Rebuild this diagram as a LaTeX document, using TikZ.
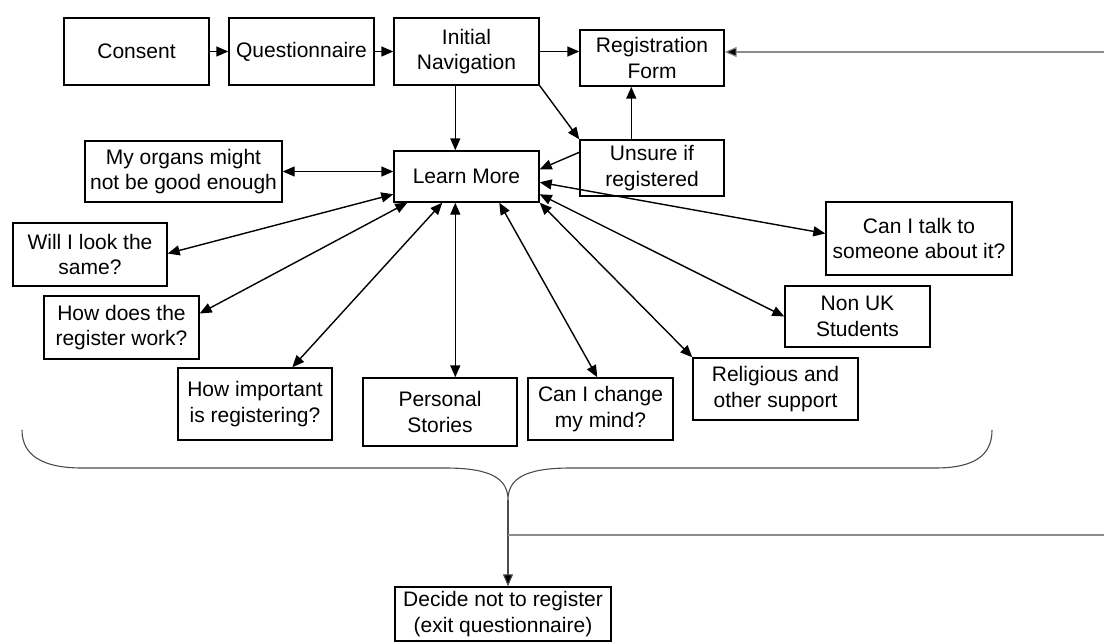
\documentclass[tikz,border=0pt]{standalone}
\usepackage{fontspec}
\setmainfont{Liberation Sans}
\usetikzlibrary{arrows.meta,calc}
\begin{document}
\begin{tikzpicture}[x=1pt,y=-1pt,
  box/.style={draw=black,line width=1.4pt,rectangle,inner sep=0pt,align=center,
    font=\fontsize{21}{25.5}\selectfont},
  link/.style={line width=1.4pt,-{Triangle[length=12pt,width=10pt]}},
  blink/.style={line width=1.4pt,{Triangle[length=12pt,width=10pt]}-{Triangle[length=12pt,width=10pt]}},
  grayline/.style={draw=black!45,line width=1.1pt},
  bracestyle/.style={draw=black!70,line width=1.1pt},
  thinlink/.style={draw=black!70,line width=1.1pt,-{Triangle[length=12pt,width=10pt,fill=black]}}]
\useasboundingbox (0,0) rectangle (1104,642);

% top row
\node[box,minimum width=145pt,minimum height=67pt] (consent) at (136.5,51.5) {Consent};
\node[box,minimum width=145pt,minimum height=67pt] (quest) at (301.5,51.5) {Questionnaire};
\node[box,minimum width=145pt,minimum height=67pt] (initnav) at (466.5,51.5) {Initial\\Navigation};
\node[box,minimum width=144pt,minimum height=56pt] (regform) at (652,58) {Registration\\Form};
\node[box,minimum width=144pt,minimum height=56pt] (unsure) at (652,168) {Unsure if\\registered};
\node[box,minimum width=145pt,minimum height=51pt] (learn) at (466.5,176.5) {Learn More};

% topics
\node[box,minimum width=197pt,minimum height=61pt] (organs) at (183.5,171.5) {My organs might\\not be good enough};
\node[box,minimum width=154pt,minimum height=63pt] (willi) at (90,254.5) {Will I look the\\same?};
\node[box,minimum width=155pt,minimum height=63pt] (howdoes) at (121.5,327.5) {How does the\\register work?};
\node[box,minimum width=154pt,minimum height=72pt] (howimp) at (255,404) {How important\\is registering?};
\node[box,minimum width=154pt,minimum height=68pt] (personal) at (440,412) {Personal\\Stories};
\node[box,minimum width=145pt,minimum height=62pt] (change) at (600.5,409) {Can I change\\my mind?};
\node[box,minimum width=165pt,minimum height=62pt] (relig) at (775.5,389) {Religious and\\other support};
\node[box,minimum width=145pt,minimum height=61pt] (nonuk) at (857.5,316.5) {Non UK\\Students};
\node[box,minimum width=186pt,minimum height=73pt] (talk) at (919,238.5) {Can I talk to\\someone about it?};

\node[box,minimum width=216pt,minimum height=54pt] (decide) at (503,614) {Decide not to register\\(exit questionnaire)};

% top connectors
\draw[link] (consent.east) -- (quest.west);
\draw[link] (quest.east) -- (initnav.west);
\draw[link] (initnav.east) -- (initnav.east -| regform.west);
\draw[link] ($(initnav.south west)+(62,0)$) -- ($(learn.north west)+(62,0)$);
\draw[link] (initnav.south east) -- (unsure.north west);
\draw[link] ($(unsure.north west)+(52,0)$) -- ($(regform.south west)+(52,0)$);
\draw[link] ($(unsure.north west)+(0,13)$) -- ($(learn.north east)+(0,19)$);

% learn more connectors
\draw[blink] (organs.east) -- (organs.east -| learn.west);
\draw[blink] ($(learn.north west)+(0,44)$) -- ($(willi.east)+(0,-1)$);
\draw[blink] ($(learn.south west)+(14,0)$) -- ($(howdoes.east)+(0,-14)$);
\draw[blink] ($(learn.south west)+(49,0)$) -- ($(howimp.north west)+(115,0)$);
\draw[blink] ($(learn.south west)+(62,0)$) -- ($(personal.north west)+(93,0)$);
\draw[blink] ($(learn.south west)+(106,0)$) -- ($(change.north west)+(70,0)$);
\draw[blink] (learn.south east) -- (relig.north west);
\draw[blink] ($(learn.north east)+(0,44)$) -- (nonuk.west);
\draw[blink] ($(learn.north east)+(0,32)$) -- ($(talk.west)+(0,-5)$);

% gray return line to registration form
\coordinate (rin) at (1104,52);
\draw[grayline,-{Triangle[length=12pt,width=10pt,fill=black]}] (rin) -- (rin -| regform.east);

% brace
\coordinate (cusp) at (508,500);
\draw[bracestyle] (22,430) .. controls (22,455) and (42,468) .. (82,468)
  -- (445,468) .. controls (490,468) and (508,478) .. (cusp)
  .. controls (508,478) and (526,468) .. (571,468)
  -- (935,468) .. controls (975,468) and (992,455) .. (992,430);

% exit
\draw[thinlink] (cusp) -- (cusp |- decide.north);
\coordinate (exitr) at (1104,535);
\draw[grayline] (cusp |- exitr) -- (exitr);
\end{tikzpicture}
\end{document}
